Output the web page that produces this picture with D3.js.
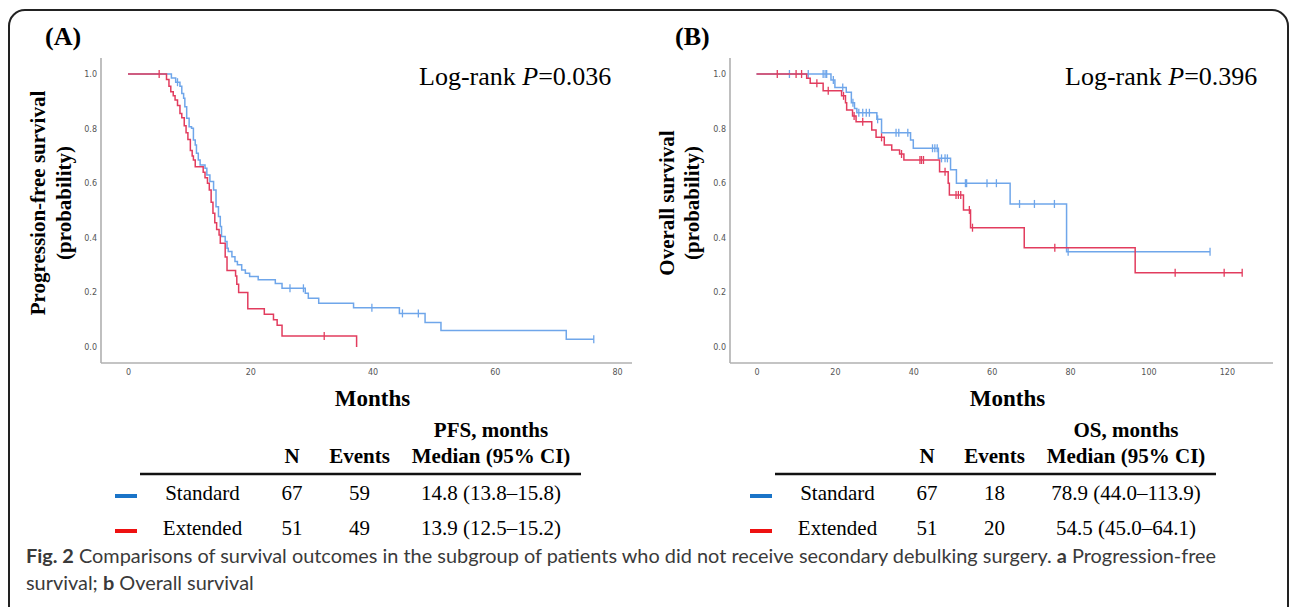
<!DOCTYPE html>
<html>
<head>
<meta charset="utf-8">
<script src="https://cdn.jsdelivr.net/npm/d3@7"></script>
<style>
  body { margin: 0; background: #fff; }
</style>
</head>
<body>
<script>
// Kaplan-Meier curves (time in months, survival probability)
var pfsStdTime = [0, 7.1, 7.8, 8.5, 8.8, 9.1, 9.3, 9.6, 10.0, 10.4, 10.7, 11.0, 11.2, 11.5, 11.8, 12.6, 12.9, 13.4, 14.0, 14.4, 14.8, 15.1, 15.3, 15.9, 16.2, 16.4, 17.0, 17.5, 17.9, 18.6, 19.2, 19.9, 21.3, 24.1, 25.2, 29.0, 29.5, 31.2, 36.9, 44.4, 48.6, 51.2, 71.7, 76.2];
var pfsStdSurv = [1, 0.985, 0.97, 0.955, 0.929, 0.911, 0.880, 0.838, 0.807, 0.801, 0.758, 0.740, 0.710, 0.685, 0.667, 0.655, 0.630, 0.606, 0.575, 0.514, 0.478, 0.441, 0.405, 0.386, 0.362, 0.350, 0.331, 0.313, 0.301, 0.282, 0.270, 0.258, 0.246, 0.233, 0.215, 0.197, 0.179, 0.160, 0.144, 0.123, 0.090, 0.060, 0.028, 0.028];
var pfsStdCens = [8.1, 26.5, 28.7, 39.9, 44.9, 47.5, 76.2];

var pfsExtTime = [0, 6.3, 6.7, 7.0, 7.4, 7.7, 8.1, 8.5, 8.8, 9.2, 9.5, 9.8, 10.2, 10.5, 10.7, 11.0, 12.3, 12.6, 13.0, 13.3, 13.6, 13.9, 14.2, 14.5, 14.9, 15.1, 15.9, 16.2, 17.6, 17.8, 18.1, 19.6, 22.3, 23.8, 24.4, 25.2, 37.4];
var pfsExtSurv = [1, 0.98, 0.955, 0.935, 0.92, 0.905, 0.885, 0.855, 0.84, 0.81, 0.785, 0.76, 0.72, 0.70, 0.685, 0.66, 0.64, 0.62, 0.60, 0.575, 0.53, 0.49, 0.455, 0.43, 0.41, 0.38, 0.33, 0.28, 0.26, 0.23, 0.20, 0.14, 0.12, 0.10, 0.08, 0.04, 0];
var pfsExtCens = [5.1, 32.1];

var osStdTime = [0, 19.0, 20.0, 22.9, 24.2, 25.0, 25.6, 30.7, 31.9, 39.3, 40.0, 46.4, 49.5, 51.0, 64.7, 79.1, 115.7];
var osStdSurv = [1, 0.978, 0.951, 0.933, 0.895, 0.874, 0.858, 0.834, 0.785, 0.758, 0.728, 0.691, 0.649, 0.600, 0.524, 0.349, 0.349];
var osStdCens = [8.4, 13.2, 17.0, 17.5, 17.9, 19.6, 22.0, 24.6, 26.1, 27.1, 28.0, 28.8, 30.9, 35.6, 36.3, 38.6, 44.9, 45.5, 46.1, 47.2, 48.1, 48.7, 53.3, 53.6, 58.8, 61.2, 67.1, 70.9, 76.0, 79.5, 115.7];

var osExtTime = [0, 12.8, 13.7, 17.0, 21.7, 22.7, 23.0, 24.5, 25.4, 29.4, 30.5, 32.6, 34.5, 36.5, 37.6, 46.7, 48.9, 49.2, 52.8, 54.6, 68.3, 96.6, 123.9];
var osExtSurv = [1, 0.984, 0.966, 0.939, 0.92, 0.895, 0.868, 0.846, 0.825, 0.795, 0.768, 0.740, 0.722, 0.707, 0.685, 0.642, 0.600, 0.557, 0.502, 0.437, 0.364, 0.272, 0.272];
var osExtCens = [5.3, 10.1, 11.5, 15.4, 18.3, 22.2, 24.9, 27.1, 31.9, 37.0, 41.7, 42.1, 42.6, 48.1, 50.9, 51.5, 52.1, 54.3, 55.1, 76.1, 106.8, 119.3, 123.9];

var yTicks = [0, 0.2, 0.4, 0.6, 0.8, 1.0];
var pfsTicks = [0, 20, 40, 60, 80];
var osTicks = [0, 20, 40, 60, 80, 100, 120];

var groups = ["Standard", "Extended"];
var tableCols = ["N", "Events", "Median (95% CI)"];
var pfsN = [67, 51], pfsEvents = [59, 49], pfsMedian = ["14.8 (13.8\u201315.8)", "13.9 (12.5\u201315.2)"];
var osN = [67, 51], osEvents = [18, 20], osMedian = ["78.9 (44.0\u2013113.9)", "54.5 (45.0\u201364.1)"];

var width = 1290, height = 607;
var serif = "'Liberation Serif', 'Times New Roman', serif";
var curveColors = ["#6fa6ea", "#e23c5e"];
var keyColors = ["#1a74c8", "#ee1111"];

var svg = d3.select("body").append("svg")
    .attr("width", width)
    .attr("height", height)
    .style("background", "#fff");

// frame round the figure
svg.append("rect")
    .attr("x", 9).attr("y", 10)
    .attr("width", 1279).attr("height", 700)
    .attr("rx", 16)
    .attr("fill", "none")
    .attr("stroke", "#222")
    .attr("stroke-width", 2);

var drawPanel = function(p) {
  var g = svg.append("g");
  var x = d3.scaleLinear().domain(p.domain).range(p.range);
  var y = d3.scaleLinear().domain([0, 1]).range([347, 74]);
  var axisY = 363;

  // axis lines
  g.append("line")
    .attr("x1", p.axisX).attr("x2", p.axisX)
    .attr("y1", 58).attr("y2", axisY)
    .attr("stroke", "#b0b0b0").attr("stroke-width", 1.6);
  g.append("line")
    .attr("x1", p.axisX).attr("x2", p.axisEnd)
    .attr("y1", axisY).attr("y2", axisY)
    .attr("stroke", "#b0b0b0").attr("stroke-width", 1.6);

  g.append("g")
    .attr("transform", "translate(0," + axisY + ")")
    .call(d3.axisBottom(x).tickValues(p.ticks).tickSize(0).tickPadding(6))
    .call(function(a) { a.select(".domain").remove(); })
    .attr("font-size", 8).attr("font-family", "'DejaVu Sans', sans-serif")
    .selectAll("text").attr("fill", "#555");

  g.append("g")
    .attr("transform", "translate(" + p.axisX + ",0)")
    .call(d3.axisLeft(y).tickValues(yTicks).tickFormat(d3.format(".1f")).tickSize(0).tickPadding(4))
    .call(function(a) { a.select(".domain").remove(); })
    .attr("font-size", 8).attr("font-family", "'DejaVu Sans', sans-serif")
    .selectAll("text").attr("fill", "#555");

  var line = d3.line()
    .x(function(d) { return x(d[0]); })
    .y(function(d) { return y(d[1]); })
    .curve(d3.curveStepAfter);

  p.curves.forEach(function(c, i) {
    var pts = c.time.map(function(t, j) { return [t, c.surv[j]]; });
    g.append("path")
      .datum(pts)
      .attr("d", line)
      .attr("fill", "none")
      .attr("stroke", curveColors[i])
      .attr("stroke-width", 1.5);

    var bis = d3.bisector(function(d) { return d; }).right;
    g.selectAll(".cens" + i)
      .data(c.cens)
      .enter()
      .append("line")
        .attr("x1", function(d) { return x(d); })
        .attr("x2", function(d) { return x(d); })
        .attr("y1", function(d) { return y(c.surv[bis(c.time, d) - 1]) - 4; })
        .attr("y2", function(d) { return y(c.surv[bis(c.time, d) - 1]) + 4; })
        .attr("stroke", curveColors[i])
        .attr("stroke-width", 1.3);
  });

  // titles
  g.append("text")
    .attr("x", p.labelX).attr("y", 45)
    .attr("font-family", serif).attr("font-weight", "bold").attr("font-size", 26)
    .text(p.label);

  var lr = g.append("text")
    .attr("x", p.lrX).attr("y", 85)
    .attr("font-family", serif).attr("font-size", 26);
  lr.append("tspan").text("Log-rank ");
  lr.append("tspan").attr("font-style", "italic").text("P");
  lr.append("tspan").text("=" + p.pval);

  p.yTitle.forEach(function(t, k) {
    g.append("text")
      .attr("transform", "translate(" + p.yTitleX[k] + ",203) rotate(-90)")
      .attr("text-anchor", "middle")
      .attr("dy", "0.35em")
      .attr("font-family", serif).attr("font-weight", "bold").attr("font-size", 21)
      .text(t);
  });

  g.append("text")
    .attr("x", (p.axisX + p.axisEnd) / 2 + 6).attr("y", 406)
    .attr("text-anchor", "middle")
    .attr("font-family", serif).attr("font-weight", "bold").attr("font-size", 23)
    .text("Months");

  // summary table
  var tx = p.tableShift;
  var cols = [292 + tx, 359.5 + tx, 491 + tx];
  g.append("text")
    .attr("x", cols[2]).attr("y", 437)
    .attr("text-anchor", "middle")
    .attr("font-family", serif).attr("font-weight", "bold").attr("font-size", 21)
    .text(p.measure + ", months");
  g.selectAll(".colhead")
    .data(tableCols)
    .enter()
    .append("text")
      .attr("x", function(d, k) { return cols[k]; })
      .attr("y", 463)
      .attr("text-anchor", "middle")
      .attr("font-family", serif).attr("font-weight", "bold").attr("font-size", 21)
      .text(function(d) { return d; });
  g.append("line")
    .attr("x1", 140 + tx).attr("x2", 581 + tx)
    .attr("y1", 474).attr("y2", 474)
    .attr("stroke", "#111").attr("stroke-width", 2.5);

  groups.forEach(function(grp, r) {
    var by = 500 + r * 35;
    g.append("rect")
      .attr("x", 115 + tx).attr("y", by - 6)
      .attr("width", 22).attr("height", 4)
      .attr("fill", keyColors[r]);
    var cells = [grp, p.n[r], p.events[r], p.median[r]];
    var cx = [202.5 + tx].concat(cols);
    cells.forEach(function(v, k) {
      g.append("text")
        .attr("x", cx[k]).attr("y", by)
        .attr("text-anchor", "middle")
        .attr("font-family", serif).attr("font-size", 21)
        .text(v);
    });
  });
};

drawPanel({
  domain: [0, 80], range: [128, 617], axisX: 101, axisEnd: 632, ticks: pfsTicks,
  curves: [
    { time: pfsStdTime, surv: pfsStdSurv, cens: pfsStdCens },
    { time: pfsExtTime, surv: pfsExtSurv, cens: pfsExtCens }
  ],
  label: "(A)", labelX: 45, lrX: 419, pval: "0.036",
  yTitle: ["Progression-free survival", "(probability)"], yTitleX: [37.5, 64],
  tableShift: 0, measure: "PFS", n: pfsN, events: pfsEvents, median: pfsMedian
});

drawPanel({
  domain: [0, 120], range: [756.5, 1226.9], axisX: 730, axisEnd: 1273, ticks: osTicks,
  curves: [
    { time: osStdTime, surv: osStdSurv, cens: osStdCens },
    { time: osExtTime, surv: osExtSurv, cens: osExtCens }
  ],
  label: "(B)", labelX: 675, lrX: 1065, pval: "0.396",
  yTitle: ["Overall survival", "(probability)"], yTitleX: [667, 692],
  tableShift: 635, measure: "OS", n: osN, events: osEvents, median: osMedian
});

// caption
var capFont = "Lato, 'Open Sans', sans-serif";
var cap1 = svg.append("text")
    .attr("x", 26).attr("y", 563)
    .attr("font-family", capFont).attr("font-size", 18).attr("fill", "#3a3a3a");
cap1.append("tspan").attr("font-weight", "bold").text("Fig. 2");
cap1.append("tspan").text(" Comparisons of survival outcomes in the subgroup of patients who did not receive secondary debulking surgery. ");
cap1.append("tspan").attr("font-weight", "bold").text("a");
cap1.append("tspan").text(" Progression-free");

var cap2 = svg.append("text")
    .attr("x", 26).attr("y", 590)
    .attr("font-family", capFont).attr("font-size", 18).attr("fill", "#3a3a3a");
cap2.append("tspan").text("survival; ");
cap2.append("tspan").attr("font-weight", "bold").text("b");
cap2.append("tspan").text(" Overall survival");

// fit caption width to the original line length
var w1 = cap1.node().getComputedTextLength();
var fs = 18 * 1191 / w1;
cap1.attr("font-size", fs);
cap2.attr("font-size", fs);
</script>
</body>
</html>
